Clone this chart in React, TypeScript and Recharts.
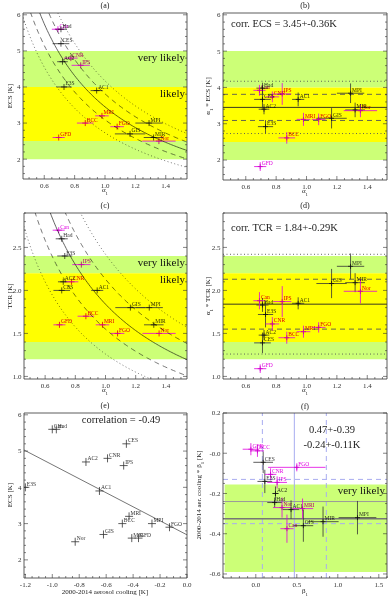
import React from "react";
import {
  ComposedChart,
  Scatter,
  XAxis,
  YAxis,
  ReferenceArea,
  ReferenceLine,
  ErrorBar,
} from "recharts";

const SERIF = '"Liberation Serif", "DejaVu Serif", serif';
const INK = "#333";
const MAG = "#e000e0";
const GREEN = "#ccff77";
const YELLOW = "#ffff00";
const LAV = "#a8acf0";

// model order used by every array below
const MODELS = ["Had", "Can", "CES", "AC2", "CNR", "IPS", "E3S", "AC1", "MRI", "BCC", "FGO", "MPI", "GIS", "MIR", "Nor", "GFD"];
const MAGENTA_MODELS = ["Can", "CNR", "IPS", "MRI", "BCC", "FGO", "Nor", "GFD"];

// (a), (c)
const ALPHA1 = [0.71, 0.69, 0.71, 0.72, 0.775, 0.84, 0.73, 0.945, 0.98, 0.87, 1.08, 1.29, 1.165, 1.32, 1.355, 0.695];
const ALPHA1_ERR = [0.04, 0.04, 0.055, 0.035, 0.045, 0.06, 0.05, 0.04, 0.045, 0.055, 0.045, 0.09, 0.1, 0.065, 0.11, 0.04];
const ECS = [5.6, 5.6, 5.2, 4.7, 4.8, 4.6, 4.0, 3.9, 3.2, 3.0, 2.9, 3.0, 2.7, 2.6, 2.5, 2.6];
const TCR = [2.6, 2.7, 2.0, 2.1, 2.1, 2.3, 2.4, 2.0, 1.6, 1.7, 1.5, 1.8, 1.8, 1.6, 1.5, 1.6];

// (b), (d): alpha1 * ECS and alpha1 * TCR
const A_ECS = [3.98, 3.92, 3.67, 3.4, 3.74, 3.82, 2.92, 3.67, 3.12, 2.61, 3.12, 3.84, 3.15, 3.38, 3.36, 1.82];
const A_ECS_ERR = [0.15, 0.15, 0.25, 0.14, 0.15, 0.3, 0.18, 0.19, 0.18, 0.16, 0.16, 0.27, 0.28, 0.2, 0.18, 0.12];
const A_TCR = [1.83, 1.88, 1.39, 1.48, 1.61, 1.87, 1.72, 1.85, 1.52, 1.45, 1.57, 2.28, 2.08, 2.09, 1.99, 1.09];
const A_TCR_ERR = [0.08, 0.1, 0.12, 0.06, 0.08, 0.18, 0.15, 0.07, 0.07, 0.07, 0.06, 0.15, 0.17, 0.11, 0.14, 0.05];

// (e)
const AER_COOLING = [-0.97, -1.0, -0.45, -0.75, -0.59, -0.47, -1.2, -0.65, -0.43, -0.48, -0.13, -0.26, -0.62, -0.41, -0.83, -0.36];
const E_FIT = [{ x: -1.21, y: 5.03 }, { x: 0, y: 2.69 }];

// (f)
const BETA1 = [0.23, 0.38, 0.09, 0.24, 0.18, 0.26, 0.11, 0.43, 0.57, 0.02, 0.5, 1.24, 0.58, 0.82, 0.32, -0.06];
const BETA1_ERR = [0.09, 0.08, 0.12, 0.04, 0.07, 0.12, 0.09, 0.1, 0.13, 0.08, 0.35, 0.23, 0.12, 0.19, 0.11, 0.1];
const AER_BETA = [-0.245, -0.375, -0.045, -0.2, -0.105, -0.145, -0.14, -0.28, -0.275, 0.012, -0.07, -0.32, -0.36, -0.34, -0.27, 0.02];
const AER_BETA_ERR = [0.025, 0.07, 0.054, 0.035, 0.03, 0.03, 0.058, 0.046, 0.05, 0.03, 0.02, 0.083, 0.08, 0.075, 0.05, 0.03];

const CORR_ECS = 3.45, CORR_ECS_SD = 0.36;
const CORR_TCR = 1.84, CORR_TCR_SD = 0.29;
const BETA_MEAN = 0.47, BETA_SD = 0.39;
const COOL_MEAN = -0.24, COOL_SD = 0.11;

const range = (a: number, b: number, s: number) => {
  const out: number[] = [];
  for (let v = a; v <= b + 1e-9; v += s) out.push(Math.round(v * 1000) / 1000);
  return out;
};

const pts = (xs: number[], ys: number[], exs?: number[], eys?: number[]) =>
  MODELS.map((name, i) => ({
    name,
    x: xs[i],
    y: ys[i],
    ex: exs ? exs[i] : 0,
    ey: eys ? eys[i] : 0,
    mag: MAGENTA_MODELS.includes(name),
  }));

// constraint curve y = c / alpha1
const ALPHA_GRID = range(0.44, 1.56, 0.01);
const hyper = (c: number) => ALPHA_GRID.map((a) => ({ x: a, y: c / a }));

const cross = (col: string, s: number) => (p: any) => {
  const name = p.payload?.name ?? p.name;
  return (
    <g>
      <line x1={p.cx - s} x2={p.cx + s} y1={p.cy} y2={p.cy} stroke={col} strokeWidth={0.8} />
      <line x1={p.cx} x2={p.cx} y1={p.cy - s} y2={p.cy + s} stroke={col} strokeWidth={0.8} />
      <text x={p.cx + 1.5} y={p.cy - 1.5} fontSize={5.5} fill={col}>{name}</text>
    </g>
  );
};

function series(data: any[], key: string, size: number, ex: boolean, ey: boolean, allBlack = false) {
  const groups = allBlack ? [data] : [data.filter((d) => !d.mag), data.filter((d) => d.mag)];
  return groups.map((set, k) => {
    const col = k ? MAG : INK;
    return (
      <Scatter key={key + k} data={set} fill={col} isAnimationActive={false} shape={cross(col, size)}>
        {ex && <ErrorBar dataKey="ex" direction="x" width={0} stroke={col} strokeWidth={0.8} />}
        {ey && <ErrorBar dataKey="ey" direction="y" width={0} stroke={col} strokeWidth={0.8} />}
      </Scatter>
    );
  });
}

function curves(c: number, sd: number, key: string) {
  const set = [
    { v: c - 2 * sd, dash: "1 2.5", w: 0.8 },
    { v: c - sd, dash: "5 4", w: 0.8 },
    { v: c, dash: undefined, w: 0.9 },
    { v: c + sd, dash: "5 4", w: 0.8 },
    { v: c + 2 * sd, dash: "1 2.5", w: 0.8 },
  ];
  return set.map((s, i) => (
    <Scatter
      key={key + i}
      data={hyper(s.v)}
      fill="none"
      line={{ stroke: "#555", strokeWidth: s.w, strokeDasharray: s.dash }}
      lineType="joint"
      shape={() => <g />}
      isAnimationActive={false}
    />
  ));
}

function hlines(c: number, sd: number, key: string) {
  const set = [
    { v: c - 2 * sd, dash: "1 2.5" },
    { v: c - sd, dash: "5 4" },
    { v: c, dash: undefined },
    { v: c + sd, dash: "5 4" },
    { v: c + 2 * sd, dash: "1 2.5" },
  ];
  return set.map((s, i) => (
    <ReferenceLine key={key + i} y={s.v} stroke={s.dash ? "#555" : "#222"} strokeWidth={0.9} strokeDasharray={s.dash} />
  ));
}

type Cfg = {
  x0: number; y0: number; w: number; h: number;
  l: number; t: number; r: number; b: number;
  xDomain: [number, number]; yDomain: [number, number];
  xMajor: number[]; xMinor: number[]; yMajor: number[]; yMinor: number[];
  xFmt: (v: number) => string; yFmt: (v: number) => string;
};

const isMajor = (list: number[], v: number) => list.some((m) => Math.abs(m - v) < 1e-6);

function Panel({ c, children }: { c: Cfg; children: React.ReactNode }) {
  const { w, h, l, t, r, b } = c;
  const xt = (side: "bottom" | "top") => (p: any) => {
    const maj = isMajor(c.xMajor, p.payload.value);
    const y0 = side === "bottom" ? b : t;
    const dir = side === "bottom" ? -1 : 1;
    return (
      <g>
        <line x1={p.x} x2={p.x} y1={y0} y2={y0 + dir * (maj ? 4 : 2)} stroke={INK} strokeWidth={0.6} />
        {side === "bottom" && maj && (
          <text x={p.x} y={b + 8.5} textAnchor="middle" fontSize={7} fill="#333">{c.xFmt(p.payload.value)}</text>
        )}
      </g>
    );
  };
  const yt = (side: "left" | "right") => (p: any) => {
    const maj = isMajor(c.yMajor, p.payload.value);
    const x0 = side === "left" ? l : r;
    const dir = side === "left" ? 1 : -1;
    return (
      <g>
        <line x1={x0} x2={x0 + dir * (maj ? 4 : 2)} y1={p.y} y2={p.y} stroke={INK} strokeWidth={0.6} />
        {side === "left" && maj && (
          <text x={l - 2.5} y={p.y + 2.4} textAnchor="end" fontSize={7} fill="#333">{c.yFmt(p.payload.value)}</text>
        )}
      </g>
    );
  };
  const line = { stroke: INK, strokeWidth: 0.8 };
  return (
    <div style={{ position: "absolute", left: c.x0, top: c.y0 }}>
      <ComposedChart width={w} height={h} margin={{ top: t - 1, right: w - r - 1, left: 0, bottom: 0 }}>
        <XAxis type="number" dataKey="x" domain={c.xDomain} allowDataOverflow ticks={c.xMinor} interval={0}
          tickLine={false} axisLine={line} height={h - b} tick={xt("bottom")} />
        <XAxis xAxisId="top" orientation="top" type="number" domain={c.xDomain} allowDataOverflow ticks={c.xMinor}
          interval={0} tickLine={false} axisLine={line} height={1} tick={xt("top")} />
        <YAxis type="number" dataKey="y" domain={c.yDomain} allowDataOverflow ticks={c.yMinor} interval={0}
          tickLine={false} axisLine={line} width={l} tick={yt("left")} />
        <YAxis yAxisId="right" orientation="right" type="number" domain={c.yDomain} allowDataOverflow ticks={c.yMinor}
          interval={0} tickLine={false} axisLine={line} width={1} tick={yt("right")} />
        {children}
      </ComposedChart>
    </div>
  );
}

function Txt({ x, y, size, children, rot, anchor = "middle" }: any) {
  const tx = anchor === "start" ? "0" : "-50%";
  return (
    <div style={{
      position: "absolute", left: x, top: y, fontSize: size, lineHeight: 1, whiteSpace: "nowrap",
      transform: `translate(${tx},-50%)${rot ? " rotate(-90deg)" : ""}`, color: "#222",
    }}>{children}</div>
  );
}

const A1 = () => <span>α<sub style={{ fontSize: "0.7em" }}>1</sub></span>;
const B1 = () => <span>β<sub style={{ fontSize: "0.7em" }}>1</sub></span>;

const f1 = (v: number) => v.toFixed(1);
const f0 = (v: number) => v.toFixed(0);
const fNeg = (v: number) => (Math.abs(v) < 1e-9 ? "-0.0" : v.toFixed(1));

const ALPHA_MAJOR = [0.6, 0.8, 1.0, 1.2, 1.4];
const ECS_MAJOR = [2, 3, 4, 5, 6];
const TCR_MAJOR = [1.0, 1.5, 2.0, 2.5];

const band = (y1: number, y2: number, fill: string, label?: string, x1?: number, x2?: number) => (
  <ReferenceArea
    key={`${y1}-${y2}-${fill}`}
    x1={x1}
    x2={x2}
    y1={y1}
    y2={y2}
    fill={fill}
    fillOpacity={1}
    stroke="none"
    label={label ? { value: label, position: "insideTopRight", offset: 2, fontSize: 11, fill: "#111" } : undefined}
  />
);

const CA: Cfg = {
  x0: 0, y0: 0, w: 195, h: 197, l: 23, t: 13, r: 187, b: 179,
  xDomain: [0.46, 1.54], yDomain: [1.45, 6.05],
  xMajor: ALPHA_MAJOR, xMinor: range(0.5, 1.5, 0.05), yMajor: ECS_MAJOR, yMinor: range(1.6, 6.0, 0.2),
  xFmt: f1, yFmt: f0,
};
const CB: Cfg = { ...CA, x0: 195, w: 196, l: 28, r: 192, b: 180, xDomain: [0.45, 1.53] };
const CC: Cfg = {
  ...CA, y0: 197, h: 200, l: 24, t: 16, b: 182, yDomain: [0.97, 2.9],
  yMajor: TCR_MAJOR, yMinor: range(1.0, 2.9, 0.1), yFmt: f1,
};
const CD: Cfg = { ...CC, x0: 195, w: 196, l: 28, r: 192, xDomain: [0.45, 1.53] };
const CE: Cfg = {
  x0: 0, y0: 397, w: 195, h: 203, l: 24, t: 16, r: 187, b: 181,
  xDomain: [-1.21, 0], yDomain: [1.5, 6.05],
  xMajor: range(-1.2, 0, 0.2), xMinor: range(-1.2, 0, 0.05), yMajor: ECS_MAJOR, yMinor: range(1.6, 6.0, 0.2),
  xFmt: f1, yFmt: f0,
};
const CF: Cfg = {
  x0: 195, y0: 397, w: 196, h: 203, l: 28, t: 16, r: 192, b: 181,
  xDomain: [-0.4, 1.6], yDomain: [-0.62, 0.2],
  xMajor: [0, 0.5, 1.0, 1.5], xMinor: range(-0.4, 1.6, 0.1), yMajor: [0.2, 0, -0.2, -0.4, -0.6], yMinor: range(-0.6, 0.2, 0.05),
  xFmt: f1, yFmt: fNeg,
};

export default function App() {
  const dA = pts(ALPHA1, ECS, ALPHA1_ERR);
  const dB = pts(ALPHA1, A_ECS, ALPHA1_ERR, A_ECS_ERR);
  const dC = pts(ALPHA1, TCR, ALPHA1_ERR);
  const dD = pts(ALPHA1, A_TCR, ALPHA1_ERR, A_TCR_ERR);
  const dE = pts(AER_COOLING, ECS);
  const dF = pts(BETA1, AER_BETA, BETA1_ERR, AER_BETA_ERR);

  return (
    <div style={{ position: "absolute", left: 0, top: 0, width: 391, height: 600, background: "#fff", fontFamily: SERIF, overflow: "hidden" }}>
      <style>{`.recharts-scatter{mix-blend-mode:multiply}`}</style>

      <Panel c={CA}>
        {band(4, 5, GREEN, "very likely")}
        {band(2.5, 4, YELLOW, "likely")}
        {band(2, 2.5, GREEN)}
        {curves(CORR_ECS, CORR_ECS_SD, "ca")}
        {series(dA, "a", 3, true, false)}
      </Panel>

      <Panel c={CB}>
        {band(4, 5, GREEN)}
        {band(2.5, 4, YELLOW)}
        {band(2, 2.5, GREEN)}
        {hlines(CORR_ECS, CORR_ECS_SD, "hb")}
        {series(dB, "b", 2.5, true, true)}
      </Panel>

      <Panel c={CC}>
        {band(2.2, 2.4, GREEN, "very likely")}
        {band(1.4, 2.2, YELLOW, "likely")}
        {band(1.2, 1.4, GREEN)}
        {curves(CORR_TCR, CORR_TCR_SD, "cc")}
        {series(dC, "c", 3, true, false)}
      </Panel>

      <Panel c={CD}>
        {band(2.2, 2.4, GREEN)}
        {band(1.4, 2.2, YELLOW)}
        {band(1.2, 1.4, GREEN)}
        {hlines(CORR_TCR, CORR_TCR_SD, "hd")}
        {series(dD, "d", 2.5, true, true)}
      </Panel>

      <Panel c={CE}>
        <ReferenceLine segment={E_FIT} stroke="#666" strokeWidth={0.9} />
        {series(dE, "e", 4, false, false, true)}
      </Panel>

      <Panel c={CF}>
        {band(-0.59, -0.155, GREEN, "very likely", -0.38, 1.6)}
        <ReferenceLine x={BETA_MEAN} stroke={LAV} strokeWidth={1} />
        <ReferenceLine x={BETA_MEAN - BETA_SD} stroke={LAV} strokeWidth={1} strokeDasharray="5 4" />
        <ReferenceLine x={BETA_MEAN + BETA_SD} stroke={LAV} strokeWidth={1} strokeDasharray="5 4" />
        <ReferenceLine y={COOL_MEAN + COOL_SD} stroke={LAV} strokeWidth={1} strokeDasharray="5 4" />
        <ReferenceLine y={COOL_MEAN - COOL_SD} stroke={LAV} strokeWidth={1} strokeDasharray="5 4" />
        <ReferenceLine y={COOL_MEAN} stroke="#9a9a9a" strokeWidth={1} />
        <ReferenceLine y={-0.325} stroke="#777" strokeWidth={1.5} />
        {series(dF, "f", 2.5, true, true)}
      </Panel>

      <Txt x={105} y={6} size={8}>(a)</Txt>
      <Txt x={305} y={6} size={8}>(b)</Txt>
      <Txt x={105} y={206} size={8}>(c)</Txt>
      <Txt x={305} y={206} size={8}>(d)</Txt>
      <Txt x={105} y={406} size={8}>(e)</Txt>
      <Txt x={305} y={407} size={8}>(f)</Txt>

      <Txt x={105} y={192} size={7}><A1 /></Txt>
      <Txt x={305} y={193} size={7}><A1 /></Txt>
      <Txt x={105} y={392} size={7}><A1 /></Txt>
      <Txt x={305} y={392} size={7}><A1 /></Txt>
      <Txt x={105} y={592} size={7}>2000-2014 aerosol cooling [K]</Txt>
      <Txt x={305} y={593} size={7}><B1 /></Txt>

      <Txt x={10} y={96} size={7} rot>ECS [K]</Txt>
      <Txt x={210} y={96} size={7} rot><A1 /> * ECS [K]</Txt>
      <Txt x={10} y={296} size={7} rot>TCR [K]</Txt>
      <Txt x={210} y={296} size={7} rot><A1 /> * TCR [K]</Txt>
      <Txt x={10} y={495} size={7} rot>ECS [K]</Txt>
      <Txt x={201} y={495} size={7} rot>2000-2014 aer. cooling * <B1 /> [K]</Txt>

      <Txt x={231} y={24} size={10.5} anchor="start">corr. ECS = 3.45+-0.36K</Txt>
      <Txt x={231} y={228} size={10.5} anchor="start">corr. TCR = 1.84+-0.29K</Txt>
      <Txt x={121} y={420} size={10.5}>correlation = -0.49</Txt>
      <Txt x={332} y={430} size={10.5}>0.47+-0.39</Txt>
      <Txt x={332} y={445} size={10.5}>-0.24+-0.11K</Txt>
    </div>
  );
}
